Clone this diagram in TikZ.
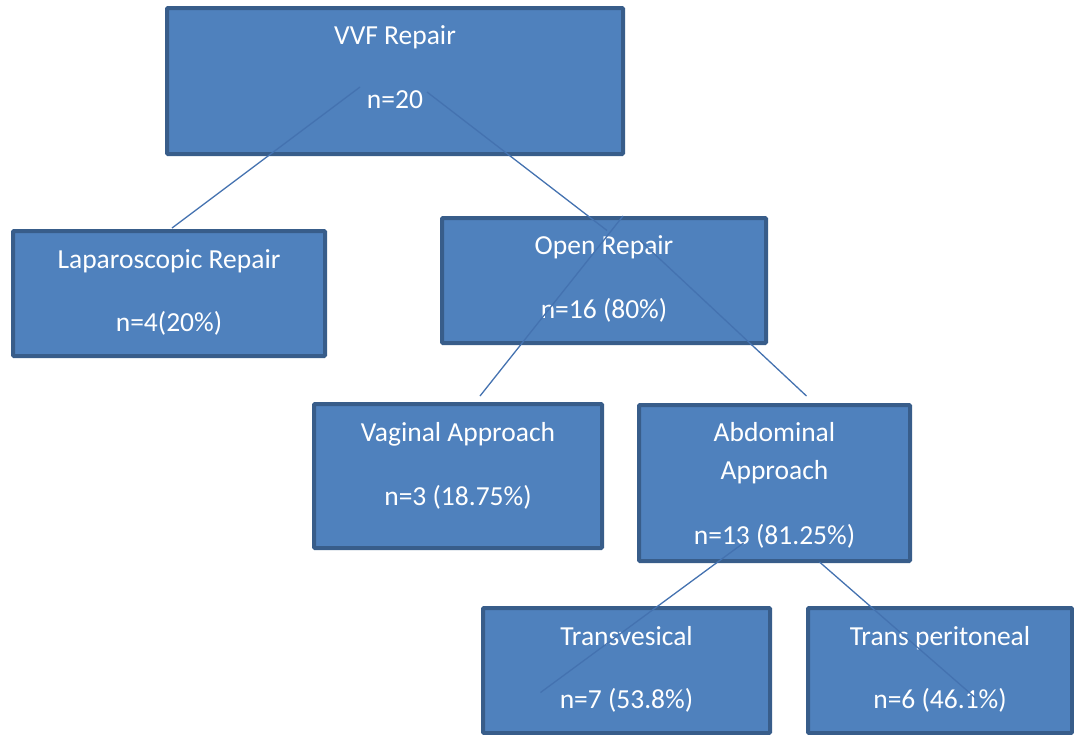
\documentclass[tikz,border=0pt]{standalone}
\usepackage{fontspec}
\setmainfont{Carlito}
\usepackage{xcolor}
\usepackage{tikz}
\usetikzlibrary{calc}
\definecolor{boxblue}{RGB}{79, 129, 189}
\definecolor{edgeblue}{RGB}{56, 93, 138}
\definecolor{lineblue}{RGB}{68, 114, 176}

\begin{document}
\begin{tikzpicture}[
    x=1pt, y=-1pt,
    block/.style={rectangle, draw=edgeblue, line width=4pt, fill=boxblue, rounded corners=1pt, inner sep=0pt},
    lbl/.style={text=white, align=center, anchor=base, inner sep=0pt, font=\fontsize{27.5}{33}\selectfont},
    branch/.style={draw=lineblue, line width=1.3pt}
]
\useasboundingbox (0,0) rectangle (1074,734);

% Boxes
\node[block, minimum width=456pt, minimum height=146pt] (root) at (395,81) {};
\node[block, minimum width=312pt, minimum height=125pt] (lap)  at (169,293.5) {};
\node[block, minimum width=324pt, minimum height=125pt] (open) at (604,280.5) {};
\node[block, minimum width=288pt, minimum height=144pt] (vag)  at (458,476) {};
\node[block, minimum width=271pt, minimum height=156pt] (abd)  at (774.5,483) {};
\node[block, minimum width=287pt, minimum height=125pt] (trv)  at (626.5,670.5) {};
\node[block, minimum width=264pt, minimum height=125pt] (trp)  at (940,670.5) {};

% Texts (placed at the baseline of the last line)
\node[lbl] (rootT) at (395,108)   {VVF Repair\\[31pt]n=20};
\node[lbl] (lapT)  at (169,331)   {Laparoscopic Repair\\[30pt]n=4(20\%)};
\node[lbl] (openT) at (604,318)   {Open Repair\\[31pt]n=16 (80\%)};
\node[lbl] (vagT)  at (458,505)   {Vaginal Approach\\[31pt]n=3 (18.75\%)};
\node[lbl] (abdT)  at (774.5,544) {Abdominal\\[5pt]Approach\\[32pt]n=13 (81.25\%)};
\node[lbl] (trvT)  at (626.5,708) {Transvesical\\[30pt]n=7 (53.8\%)};
\node[lbl] (trpT)  at (940,708)   {Trans peritoneal\\[30pt]n=6 (46.1\%)};

% Connector ends
\coordinate (rootL) at ($(root.center)+(-35,6)$);
\coordinate (rootR) at ($(root.center)+(32,11)$);
\coordinate (openL) at ($(open.north)+(19,0)$);
\coordinate (openR) at ($(open.center)+(36,-40)$);
\coordinate (abdL)  at ($(abd.center)+(-31,60)$);
\coordinate (abdR)  at ($(abd.center)+(45,79)$);

% Links
\draw[branch] (rootL) -- ($(lap.north)+(3,-1)$);
\draw[branch] (rootR) -- ($(open.center)+(3,-50)$);
\draw[branch] (openL) -- ($(vag.north)+(22,-6)$);
\draw[branch] (openR) -- ($(abd.north)+(32,-7)$);
\draw[branch] (abdL) -- ($(trv.center)+(-86,22)$);
\draw[branch] (abdR) -- ($(trp.center)+(35,27)$);

\end{tikzpicture}
\end{document}
